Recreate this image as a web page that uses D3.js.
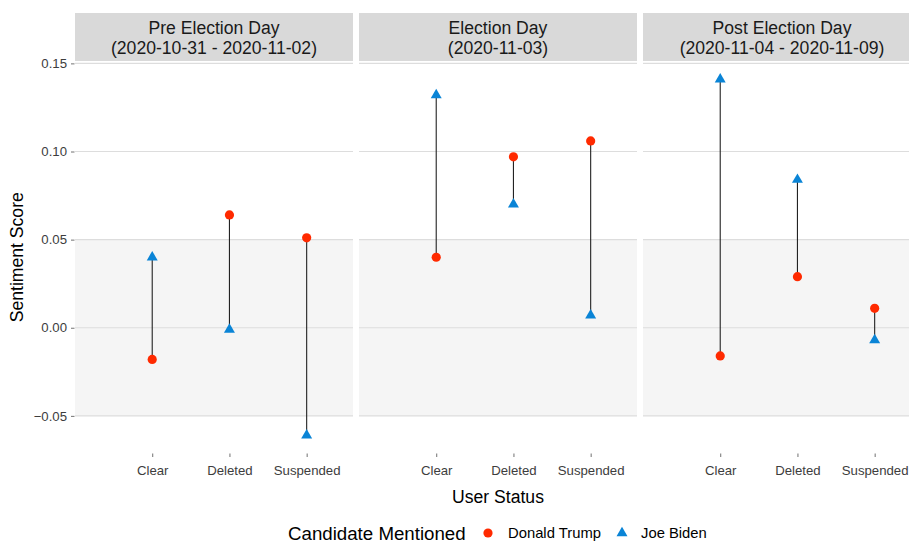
<!DOCTYPE html>
<html>
<head>
<meta charset="utf-8">
<script src="https://cdn.jsdelivr.net/npm/d3@7"></script>
<style>
  html, body { margin: 0; padding: 0; background: #ffffff; }
  svg { display: block; font-family: "Liberation Sans", Arial, sans-serif; }
</style>
</head>
<body>
<svg id="chart" width="909" height="541"></svg>
<script>
// Facet titles (one per period)
const periodLines = [
  ["Pre Election Day", "(2020-10-31 - 2020-11-02)"],
  ["Election Day", "(2020-11-03)"],
  ["Post Election Day", "(2020-11-04 - 2020-11-09)"]
];
// User status categories on the x axis
const statuses = ["Clear", "Deleted", "Suspended"];
// Mean sentiment score per period (rows) and status (columns)
const trumpScores = [
  [-0.018, 0.064, 0.051],
  [0.040, 0.097, 0.106],
  [-0.016, 0.029, 0.011]
];
const bidenScores = [
  [0.040, -0.001, -0.061],
  [0.132, 0.070, 0.007],
  [0.141, 0.084, -0.007]
];
const yTicks = [-0.05, 0.00, 0.05, 0.10, 0.15];
const candidates = ["Donald Trump", "Joe Biden"];
const candidateColors = ["#ff2a00", "#0a84d6"];

const svg = d3.select("#chart");

const panelLeft = 75, panelWidth = 278, panelGap = 6;
const panelTop = 62.5, panelBottom = 452;
const stripTop = 13, stripBottom = 61;

const y = d3.scaleLinear().domain([-0.0705, 0.1505]).range([panelBottom, panelTop]);
const x = d3.scaleLinear().domain([0, 3.6]).range([0, panelWidth]);

const gridColor = "#dddddd";
const symTri = d3.symbol().type(d3.symbolTriangle).size(52);

periodLines.forEach((lines, p) => {
  const g = svg.append("g")
    .attr("transform", `translate(${panelLeft + p * (panelWidth + panelGap)},0)`);

  // Strip
  g.append("rect")
    .attr("x", 0).attr("y", stripTop)
    .attr("width", panelWidth).attr("height", stripBottom - stripTop)
    .attr("fill", "#d9d9d9");
  lines.forEach((t, i) => {
    g.append("text")
      .attr("x", panelWidth / 2)
      .attr("y", 28 + i * 20)
      .attr("text-anchor", "middle")
      .attr("dominant-baseline", "central")
      .attr("font-size", 17.6)
      .attr("fill", "#1a1a1a")
      .text(t);
  });

  // Shaded band between -0.05 and 0.05
  g.append("rect")
    .attr("x", 0).attr("y", y(0.05))
    .attr("width", panelWidth).attr("height", y(-0.05) - y(0.05))
    .attr("fill", "#f5f5f5");

  // Horizontal grid lines
  g.selectAll("line.grid").data(yTicks).join("line")
    .attr("class", "grid")
    .attr("x1", 0).attr("x2", panelWidth)
    .attr("y1", d => y(d)).attr("y2", d => y(d))
    .attr("stroke", gridColor).attr("stroke-width", 1.1);

  // X axis
  const xAxis = d3.axisBottom(x)
    .tickValues([1, 2, 3])
    .tickFormat(d => statuses[d - 1])
    .tickSize(3.5)
    .tickPadding(9);
  const ax = g.append("g")
    .attr("transform", `translate(0,${panelBottom + 1.5})`)
    .call(xAxis);
  ax.select(".domain").remove();
  ax.selectAll(".tick line").attr("stroke", "#4d4d4d").attr("stroke-width", 0.8);
  ax.selectAll(".tick text")
    .attr("font-size", 13.2)
    .attr("font-family", "Liberation Sans, Arial, sans-serif")
    .attr("fill", "#3d3d3d");

  // Segments connecting the two candidates
  const rows = statuses.map((s, i) => ({ i: i + 1, t: trumpScores[p][i], b: bidenScores[p][i] }));
  g.selectAll("line.seg").data(rows).join("line")
    .attr("class", "seg")
    .attr("x1", d => x(d.i)).attr("x2", d => x(d.i))
    .attr("y1", d => y(d.t)).attr("y2", d => y(d.b))
    .attr("stroke", "#222222").attr("stroke-width", 1.1);

  // Trump points
  g.selectAll("circle.trump").data(rows).join("circle")
    .attr("class", "trump")
    .attr("cx", d => x(d.i)).attr("cy", d => y(d.t))
    .attr("r", 4.6)
    .attr("fill", candidateColors[0]);

  // Biden points
  g.selectAll("path.biden").data(rows).join("path")
    .attr("class", "biden")
    .attr("transform", d => `translate(${x(d.i)},${y(d.b)})`)
    .attr("d", symTri)
    .attr("fill", candidateColors[1]);
});

// Y axis
const yAxis = d3.axisLeft(y).tickValues(yTicks).tickFormat(d3.format(".2f")).tickSize(3.5).tickPadding(4);
const ay = svg.append("g").attr("transform", `translate(${panelLeft - 0.5},0)`).call(yAxis);
ay.select(".domain").remove();
ay.selectAll(".tick line").attr("stroke", "#4d4d4d").attr("stroke-width", 0.8);
ay.selectAll(".tick text")
  .attr("font-size", 13.2)
  .attr("font-family", "Liberation Sans, Arial, sans-serif")
  .attr("fill", "#3d3d3d");

// Axis titles
svg.append("text")
  .attr("transform", `translate(17,${(panelTop + panelBottom) / 2}) rotate(-90)`)
  .attr("text-anchor", "middle")
  .attr("dominant-baseline", "central")
  .attr("font-size", 17.6)
  .attr("fill", "#000")
  .text("Sentiment Score");

svg.append("text")
  .attr("x", panelLeft + (3 * panelWidth + 2 * panelGap) / 2)
  .attr("y", 496.5)
  .attr("text-anchor", "middle")
  .attr("dominant-baseline", "central")
  .attr("font-size", 17.6)
  .attr("fill", "#000")
  .text("User Status");

// Legend
const legY = 533;
const leg = svg.append("g");
leg.append("text")
  .attr("x", 288).attr("y", legY)
  .attr("dominant-baseline", "central")
  .attr("font-size", 18.7)
  .attr("fill", "#000")
  .text("Candidate Mentioned");
leg.append("circle")
  .attr("cx", 488).attr("cy", legY).attr("r", 4.6)
  .attr("fill", candidateColors[0]);
leg.append("text")
  .attr("x", 508).attr("y", legY)
  .attr("dominant-baseline", "central")
  .attr("font-size", 14.8)
  .attr("fill", "#000")
  .text(candidates[0]);
leg.append("path")
  .attr("transform", `translate(622,${legY})`)
  .attr("d", symTri)
  .attr("fill", candidateColors[1]);
leg.append("text")
  .attr("x", 641).attr("y", legY)
  .attr("dominant-baseline", "central")
  .attr("font-size", 14.8)
  .attr("fill", "#000")
  .text(candidates[1]);
</script>
</body>
</html>
